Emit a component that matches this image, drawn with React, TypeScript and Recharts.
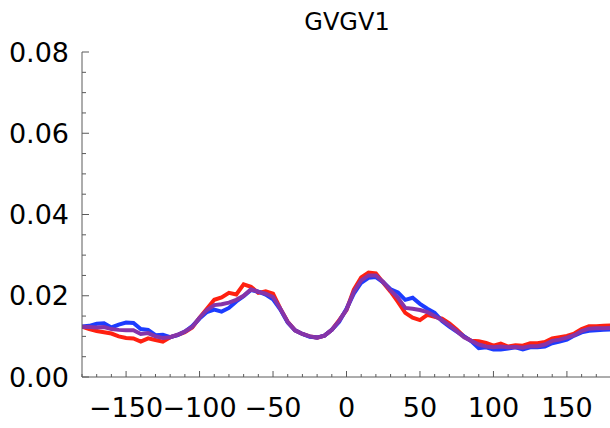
import React from 'react';
import { LineChart, Line, XAxis, YAxis } from 'recharts';

// angle bins (degrees)
const angles: number[] = [
  -180, -175, -170, -165, -160, -155, -150, -145, -140, -135, -130, -125, -120, -115, -110, -105,
  -100, -95, -90, -85, -80, -75, -70, -65, -60, -55, -50, -45, -40, -35, -30, -25,
  -20, -15, -10, -5, 0, 5, 10, 15, 20, 25, 30, 35, 40, 45, 50, 55,
  60, 65, 70, 75, 80, 85, 90, 95, 100, 105, 110, 115, 120, 125, 130, 135,
  140, 145, 150, 155, 160, 165, 170, 175, 180,
];

const redSeries: number[] = [
  0.0124, 0.0118, 0.0113, 0.0110, 0.0107, 0.0100, 0.0096, 0.0095, 0.0087, 0.0095, 0.0091, 0.0087, 0.0098, 0.0103, 0.0110, 0.0122,
  0.0146, 0.0168, 0.0190, 0.0196, 0.0207, 0.0203, 0.0228, 0.0222, 0.0207, 0.0211, 0.0205, 0.0168, 0.0136, 0.0115, 0.0106, 0.0100,
  0.0097, 0.0102, 0.0116, 0.0140, 0.0165, 0.0215, 0.0245, 0.0257, 0.0255, 0.0232, 0.0210, 0.0185, 0.0158, 0.0146, 0.0140, 0.0153,
  0.0148, 0.0144, 0.0132, 0.0117, 0.0100, 0.0089, 0.0088, 0.0084, 0.0077, 0.0082, 0.0075, 0.0078, 0.0077, 0.0083, 0.0083, 0.0086,
  0.0095, 0.0098, 0.0101, 0.0107, 0.0118, 0.0125, 0.0125, 0.0126, 0.0127,
];

const blueSeries: number[] = [
  0.0124, 0.0126, 0.0131, 0.0132, 0.0122, 0.0129, 0.0134, 0.0133, 0.0118, 0.0116, 0.0103, 0.0104, 0.0098, 0.0103, 0.0112, 0.0125,
  0.0144, 0.0160, 0.0166, 0.0161, 0.0170, 0.0186, 0.0199, 0.0214, 0.0210, 0.0203, 0.0191, 0.0166, 0.0134, 0.0115, 0.0106, 0.0099,
  0.0097, 0.0102, 0.0116, 0.0136, 0.0168, 0.0205, 0.0232, 0.0244, 0.0246, 0.0233, 0.0216, 0.0208, 0.0190, 0.0195, 0.0180, 0.0168,
  0.0158, 0.0138, 0.0124, 0.0112, 0.0100, 0.0088, 0.0071, 0.0073, 0.0068, 0.0068, 0.0070, 0.0073, 0.0068, 0.0073, 0.0073, 0.0075,
  0.0083, 0.0087, 0.0092, 0.0102, 0.0110, 0.0114, 0.0115, 0.0116, 0.0117,
];

const purpleSeries: number[] = [
  0.0124, 0.0123, 0.0122, 0.0123, 0.0118, 0.0116, 0.0115, 0.0115, 0.0106, 0.0108, 0.0100, 0.0096, 0.0098, 0.0104, 0.0112, 0.0123,
  0.0146, 0.0165, 0.0177, 0.0179, 0.0183, 0.0190, 0.0200, 0.0216, 0.0210, 0.0205, 0.0197, 0.0168, 0.0135, 0.0115, 0.0106, 0.0100,
  0.0097, 0.0102, 0.0116, 0.0138, 0.0166, 0.0210, 0.0238, 0.0250, 0.0250, 0.0234, 0.0213, 0.0195, 0.0170, 0.0168, 0.0165, 0.0160,
  0.0150, 0.0140, 0.0127, 0.0113, 0.0098, 0.0089, 0.0080, 0.0075, 0.0073, 0.0075, 0.0073, 0.0074, 0.0072, 0.0076, 0.0076, 0.0080,
  0.0089, 0.0092, 0.0097, 0.0103, 0.0113, 0.0119, 0.0120, 0.0120, 0.0121,
];

const xMinorTicks: number[] = Array.from({ length: 37 }, (_, i) => -180 + i * 10);
const xLabelTicks: number[] = [-150, -100, -50, 0, 50, 100, 150];
const yMinorTicks: number[] = Array.from({ length: 17 }, (_, i) => +(i * 0.005).toFixed(3));
const yLabelTicks: number[] = [0, 0.02, 0.04, 0.06, 0.08];

const chartData = angles.map((a, i) => ({
  angle: a,
  red: redSeries[i],
  blue: blueSeries[i],
  purple: purpleSeries[i],
}));

const AXIS = '#5a5a5a';
const FONT = '"DejaVu Sans", sans-serif';

const isMajor = (v: number, list: number[]) => list.some(t => Math.abs(t - v) < 1e-9);

const BottomTick = (props: any) => {
  const { x, y, payload } = props;
  const v = payload.value as number;
  const major = isMajor(v, xLabelTicks);
  return (
    <g>
      <line x1={x} x2={x} y1={y} y2={y - (major ? 6 : 3)} stroke={AXIS} />
      {major && (
        <text x={x} y={y + 30} textAnchor="middle" dominantBaseline="central" fontSize={27} fontFamily={FONT} fill="#000">
          {v < 0 ? '\u2212' + Math.abs(v) : String(v)}
        </text>
      )}
    </g>
  );
};

const TopTick = (props: any) => {
  const { x, y, payload } = props;
  const major = isMajor(payload.value, xLabelTicks);
  return <line x1={x} x2={x} y1={y} y2={y + (major ? 6 : 3)} stroke={AXIS} />;
};

const LeftTick = (props: any) => {
  const { x, y, payload } = props;
  const v = payload.value as number;
  const major = isMajor(v, yLabelTicks);
  return (
    <g>
      <line x1={x} x2={x + (major ? 7 : 4)} y1={y} y2={y} stroke={AXIS} />
      {major && (
        <text x={x - 13} y={y} textAnchor="end" dominantBaseline="central" fontSize={27} fontFamily={FONT} fill="#000">
          {v.toFixed(2)}
        </text>
      )}
    </g>
  );
};

const RightTick = (props: any) => {
  const { x, y, payload } = props;
  const major = isMajor(payload.value, yLabelTicks);
  return <line x1={x} x2={x - (major ? 7 : 4)} y1={y} y2={y} stroke={AXIS} />;
};

export default function App() {
  return (
    <div style={{ position: 'absolute', left: 0, top: 0, width: 610, height: 428, overflow: 'hidden', background: '#fff' }}>
      <div
        style={{
          position: 'absolute',
          left: 247,
          width: 200,
          top: 8,
          textAlign: 'center',
          fontFamily: FONT,
          fontSize: 24,
          lineHeight: '28px',
          color: '#000',
        }}
      >
        GVGV1
      </div>
      <LineChart width={621} height={428} data={chartData} margin={{ top: 52, right: 0, bottom: 0, left: 0 }}>
        <XAxis
          xAxisId="bottom"
          dataKey="angle"
          type="number"
          domain={[-180, 180]}
          ticks={xMinorTicks}
          interval={0}
          height={51}
          tickSize={0}
          tickMargin={0}
          tickLine={false}
          tick={BottomTick}
          axisLine={{ stroke: AXIS }}
          allowDataOverflow
        />
        <XAxis
          xAxisId="top"
          orientation="top"
          dataKey="angle"
          type="number"
          domain={[-180, 180]}
          ticks={xMinorTicks}
          interval={0}
          height={0}
          tickSize={0}
          tickMargin={0}
          tickLine={false}
          tick={TopTick}
          axisLine={{ stroke: AXIS }}
        />
        <YAxis
          yAxisId="left"
          type="number"
          domain={[0, 0.08]}
          ticks={yMinorTicks}
          interval={0}
          width={82}
          tickSize={0}
          tickMargin={0}
          tickLine={false}
          tick={LeftTick}
          axisLine={{ stroke: AXIS }}
        />
        <YAxis
          yAxisId="right"
          orientation="right"
          type="number"
          domain={[0, 0.08]}
          ticks={yMinorTicks}
          interval={0}
          width={10}
          tickSize={0}
          tickMargin={0}
          tickLine={false}
          tick={RightTick}
          axisLine={{ stroke: AXIS }}
        />
        <Line xAxisId="bottom" yAxisId="left" type="linear" dataKey="red" stroke="#ff2010" strokeWidth={4} dot={false} isAnimationActive={false} />
        <Line xAxisId="bottom" yAxisId="left" type="linear" dataKey="blue" stroke="#1c3cff" strokeWidth={4} dot={false} isAnimationActive={false} />
        <Line xAxisId="bottom" yAxisId="left" type="linear" dataKey="purple" stroke="#8634a8" strokeWidth={4} dot={false} isAnimationActive={false} />
      </LineChart>
    </div>
  );
}
